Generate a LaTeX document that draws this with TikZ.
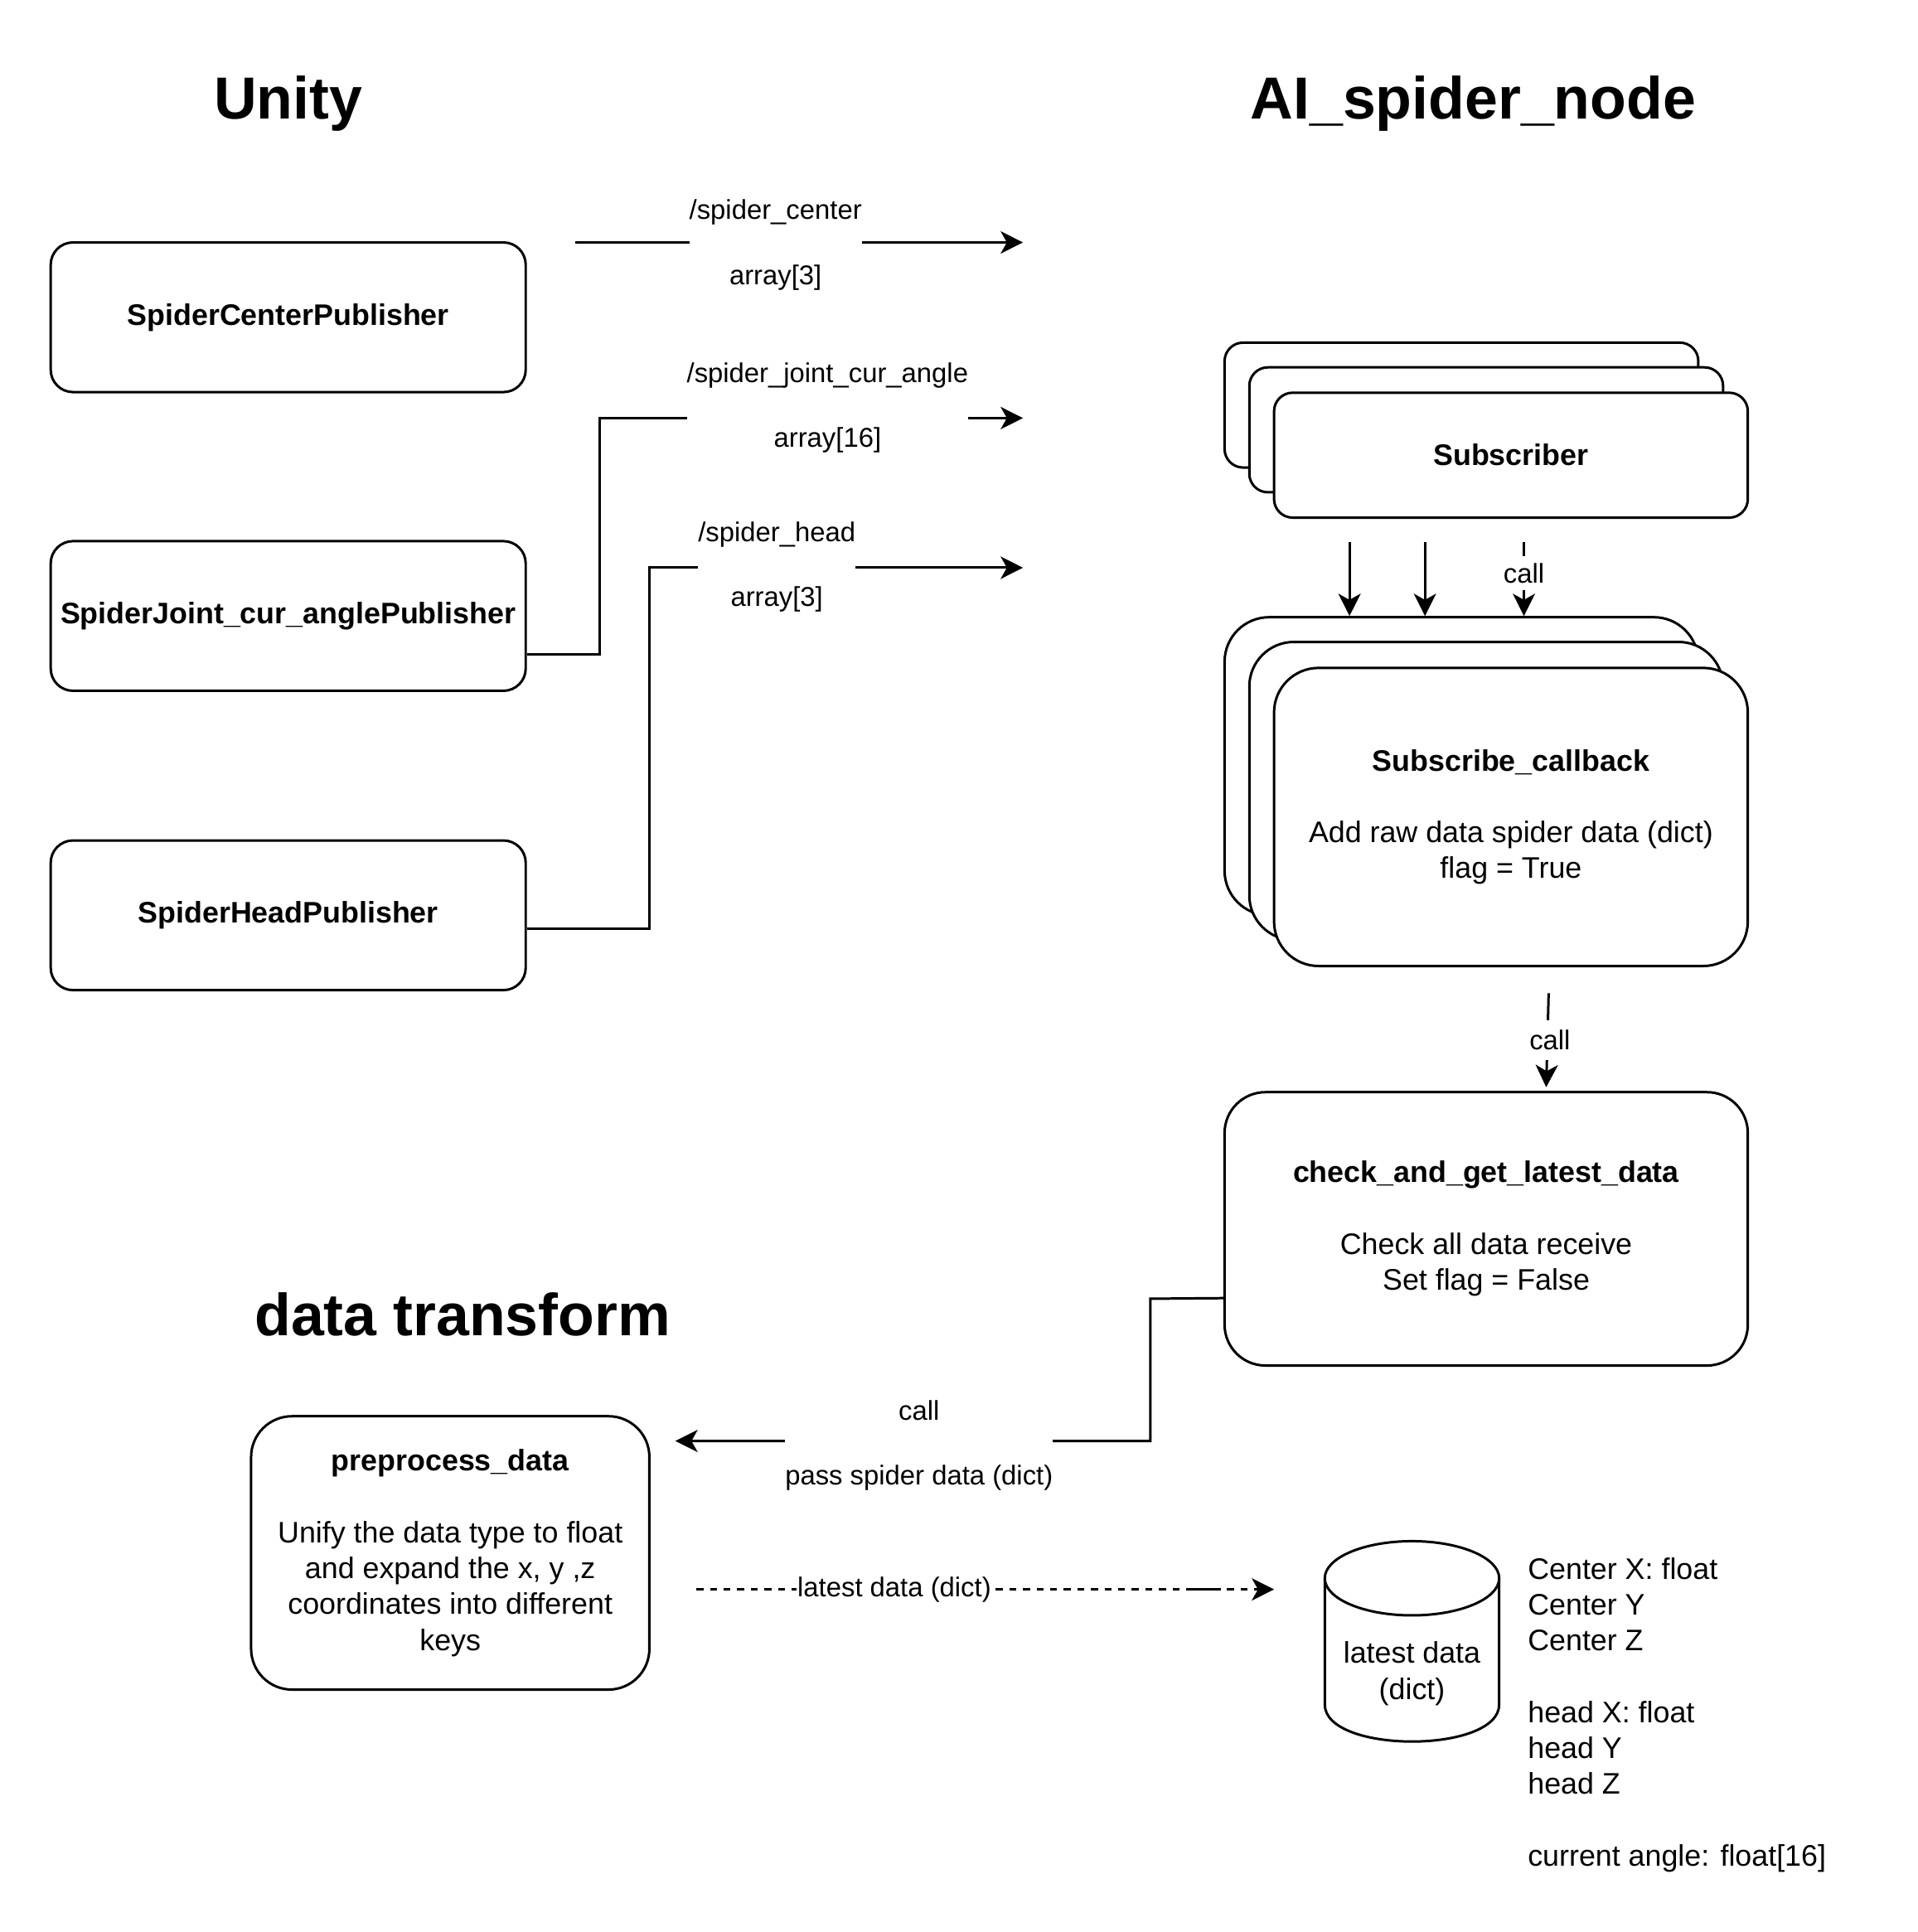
\documentclass[tikz,border=0pt]{standalone}
\usepackage{fontspec}
\setmainfont{Liberation Sans}
\usetikzlibrary{arrows.meta,calc}
\newcommand\fbody{\fontsize{24}{29}\selectfont}
\newcommand\fedge{\fontsize{22}{26.4}\selectfont}
\newcommand\ftitle{\fontsize{48}{58}\selectfont\bfseries}
\begin{document}
\begin{tikzpicture}[x=1pt,y=-1pt,
  lw/.style={line width=2pt},
  rbox/.style={draw, lw, fill=white, inner sep=0pt, align=center, font=\fbody, rounded corners=#1},
  title/.style={inner sep=0pt, font=\ftitle},
  arr/.style={lw, -{Stealth[length=18pt,width=18pt,inset=5pt]}},
  elabel/.style={fill=white, inner xsep=0pt, inner ysep=2pt, align=center, font=\fedge},
  clabel/.style={fill=white, inner xsep=1pt, inner ysep=5.5pt, font=\fedge},
  txt/.style={inner sep=0pt, font=\fbody}
]
\useasboundingbox (0,0) rectangle (1550,1562);

% titles
\node[title] (tUnity) at (233,84) {Unity};
\node[title] (tAI) at (1191,84) {AI\_spider\_node};
\node[title] (tDT) at (374,1063) {data transform};

% publishers
\node[rbox=18pt, minimum width=384pt, minimum height=121pt] (b1) at (233,256.5) {\textbf{SpiderCenterPublisher}};
\node[rbox=18pt, minimum width=384pt, minimum height=121pt] (b2) at (233,498) {\textbf{SpiderJoint\_cur\_anglePublisher}};
\node[rbox=18pt, minimum width=384pt, minimum height=121pt] (b3) at (233,740) {\textbf{SpiderHeadPublisher}};

% subscriber stack
\node[rbox=15pt, minimum width=383pt, minimum height=101pt] (sub1) at (1181.5,327.5) {};
\node[rbox=15pt, minimum width=383pt, minimum height=101pt] (sub2) at (1201.5,347.5) {};
\node[rbox=15pt, minimum width=383pt, minimum height=101pt] (sub3) at (1221.5,368) {\textbf{Subscriber}};

% callback stack
\node[rbox=36pt, minimum width=383pt, minimum height=241pt] (cb1) at (1181.5,619.5) {};
\node[rbox=36pt, minimum width=383pt, minimum height=241pt] (cb2) at (1201.5,639.5) {};
\node[rbox=36pt, minimum width=383pt, minimum height=241pt] (cb3) at (1221.5,660.5) {\textbf{Subscribe\_callback}\\[29pt]Add raw data spider data (dict)\\flag = True};

% check box
\node[rbox=33pt, minimum width=423pt, minimum height=221pt] (chk) at (1201.5,993.5) {\textbf{check\_and\_get\_latest\_data}\\[29pt]Check all data receive\\Set flag = False};

% preprocess box
\node[rbox=33pt, minimum width=322pt, minimum height=221pt] (pre) at (364,1255.5) {\textbf{preprocess\_data}\\[29pt]Unify the data type to float\\and expand the x, y ,z\\coordinates into different\\keys};

% cylinder
\draw[lw] (1071,1276) -- (1071,1378) .. controls (1071,1418) and (1212,1418) .. (1212,1378) -- (1212,1276);
\draw[lw] (1141.5,1276) ellipse [x radius=70.5, y radius=30];
\node[txt, align=center] (db) at (1141.5,1353) {latest data\\(dict)};

% list
\node[txt, align=left, anchor=west] (lst) at (1235,1386.5) {Center X: float\\Center Y\\Center Z\\[29pt]head X: float\\head Y\\head Z\\[29pt]current angle: float[16]};

% coordinates
\coordinate (s1) at (465,196);
\coordinate (t1) at (827,196);
\coordinate (t2) at (827,338);
\coordinate (t3) at (827,459);
\coordinate (a1) at (1091,438);
\coordinate (a2) at (1152,438);
\coordinate (a3) at (1232,438);
\coordinate (a4) at (1252,803);
\coordinate (a4e) at (1250,879);
\coordinate (ds) at (563,1285);
\coordinate (de) at (1030,1285);
\coordinate (sa) at (962,1285);
\coordinate (sb) at (987,1285);

% connectors
\draw[arr] (s1) -- (t1);
\draw[arr] ($(b2.east)+(0,31)$) -| (485,338) -- (t2);
\draw[arr] ($(b3.east)+(0,11)$) -| (525,459) -- (t3);
\draw[arr] (a1) -- (a1 |- cb1.north);
\draw[arr] (a2) -- (a2 |- cb1.north);
\draw[arr] (a3) -- (a3 |- cb1.north);
\draw[arr] (a4) -- (a4e);
\draw[arr] ($(chk.west)+(0,56)$) -- (930,1050) -- (930,1165) -- (546,1165);
\draw[arr, dash pattern=on 5.6pt off 5.4pt] (ds) -- (de);
\draw[lw] (sa) -- (sb);

% labels
\node[elabel] (l1) at (627,198) {/spider\_center\\[26pt]array[3]};
\node[elabel] (l2) at (669,329.5) {/spider\_joint\_cur\_angle\\[26pt]array[16]};
\node[elabel] (l3) at (628,458.5) {/spider\_head\\[26pt]array[3]};
\node[elabel] (l4) at (743,1168.5) {call\\[26pt]pass spider data (dict)};
\node[clabel] (c1) at (1232,463.5) {call};
\node[clabel, inner ysep=8pt] (c2) at (1253,841) {call};
\node[fill=white, inner xsep=1pt, inner ysep=3pt, font=\fedge] (dl) at (723,1285) {latest data (dict)};
\end{tikzpicture}
\end{document}
